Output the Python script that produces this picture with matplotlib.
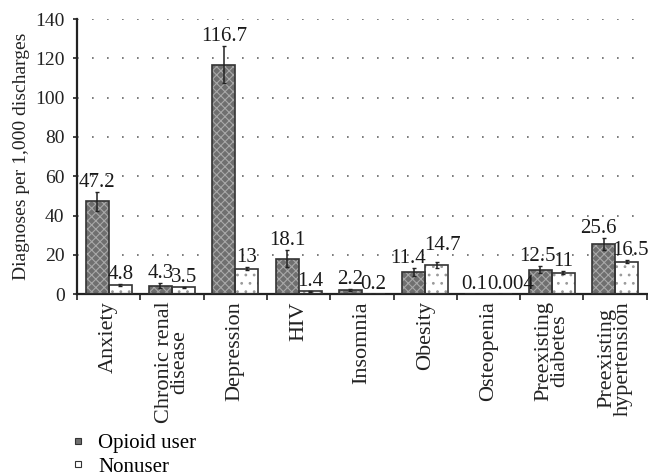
import numpy as np
import matplotlib.pyplot as plt
from matplotlib.lines import Line2D

plt.rcParams["font.family"] = ["Liberation Serif", "DejaVu Serif"]
plt.rcParams["hatch.linewidth"] = 0.8

categories = [
    "Anxiety", "Chronic renal\ndisease", "Depression", "HIV", "Insomnia",
    "Obesity", "Osteopenia", "Preexisting\ndiabetes", "Preexisting\nhypertension",
]
opioid = [47.2, 4.3, 116.7, 18.1, 2.2, 11.4, 0.1, 12.5, 25.6]
nonuser = [4.8, 3.5, 13, 1.4, 0.2, 14.7, 0.004, 11, 16.5]
opioid_labels = ["47.2", "4.3", "116.7", "18.1", "2.2", "11.4", "0.1", "12.5", "25.6"]
nonuser_labels = ["4.8", "3.5", "13", "1.4", "0.2", "14.7", "0.004", "11", "16.5"]
opioid_err = [5.0, 1.3, 9.5, 4.5, 0.6, 2.1, 0.0, 1.9, 3.2]
nonuser_err = [0.5, 0.3, 0.8, 0.2, 0.05, 1.5, 0.0, 0.7, 0.8]

# small nudges (points) for labels that crowd each other
nudge = {"11.4": (-4, 0), "14.7": (4, 5), "0.1": (-2, 0), "0.004": (8, 0),
         "12.5": (-2, 0), "25.6": (-4, 0), "16.5": (3, 0)}

fig = plt.figure(figsize=(6.48, 4.76), dpi=100)
ax = fig.add_axes([0.119, 0.382, 0.879, 0.578])

x = np.arange(len(categories))
w = 0.365
dark = "#6f6f6f"

# opioid bars: gray fill with light crosshatch, then dark outline on top
ax.bar(x - w / 2, opioid, w, color=dark, edgecolor="#a8a8a8", hatch="xxxx", linewidth=0, zorder=2)
ax.bar(x - w / 2, opioid, w, fill=False, edgecolor="#333333", linewidth=1.2, zorder=3)
ax.bar(x + w / 2, nonuser, w, color="white", edgecolor="#9a9a9a", hatch="..", linewidth=0, zorder=2)
ax.bar(x + w / 2, nonuser, w, fill=False, edgecolor="#333333", linewidth=1.2, zorder=3)

ax.errorbar(x - w / 2, opioid, yerr=opioid_err, fmt="none", ecolor="#222222",
            elinewidth=1.1, capsize=1.5, capthick=1.0, zorder=4)
ax.errorbar(x + w / 2, nonuser, yerr=nonuser_err, fmt="none", ecolor="#222222",
            elinewidth=1.1, capsize=1.5, capthick=1.0, zorder=4)

for xs, vals, errs, labs in [(x - w / 2, opioid, opioid_err, opioid_labels),
                             (x + w / 2, nonuser, nonuser_err, nonuser_labels)]:
    for xi, v, e, lab in zip(xs, vals, errs, labs):
        dx, dy = nudge.get(lab, (0, 0))
        ax.annotate(lab, (xi, v + e), xytext=(dx, dy), textcoords="offset points",
                    ha="center", va="bottom", fontsize=15, color="#1a1a1a")

ax.set_xlim(-0.5, len(categories) - 0.5)
ax.set_ylim(0, 140)
ax.set_yticks(np.arange(0, 141, 20))
ax.yaxis.grid(True, linestyle=(0, (1, 8)), color="#666666", linewidth=1.2)
ax.set_axisbelow(True)
ax.set_ylabel("Diagnoses per 1,000 discharges", fontsize=14, color="#222222", labelpad=4)

ax.set_xticks(x)
ax.set_xticklabels(categories, rotation=90, fontsize=16, color="#222222",
                   ha="center", va="top", linespacing=0.78)
ax.tick_params(axis="x", which="major", length=0, pad=5)
ax.set_xticks(np.arange(-0.5, len(categories)), minor=True)
ax.tick_params(axis="x", which="minor", length=4, width=1.2, direction="out", color="#222222")
ax.tick_params(axis="y", labelsize=14, length=3, width=1.2, colors="#222222", pad=6)

for side in ["top", "right"]:
    ax.spines[side].set_visible(False)
for side in ["left", "bottom"]:
    ax.spines[side].set_linewidth(1.6)
    ax.spines[side].set_color("#222222")

handles = [
    Line2D([], [], marker="s", linestyle="none", markersize=4.5, markerfacecolor=dark,
           markeredgecolor="#333333", markeredgewidth=0.8),
    Line2D([], [], marker="s", linestyle="none", markersize=4.5, markerfacecolor="white",
           markeredgecolor="#333333", markeredgewidth=0.8),
]
fig.legend(handles, ["Opioid user", "Nonuser"], loc="upper left",
           bbox_to_anchor=(0.097, 0.107), frameon=False, fontsize=15,
           handlelength=0.7, handletextpad=0.6, labelspacing=0.2, borderaxespad=0)

fig.savefig("out.png", dpi=100)
